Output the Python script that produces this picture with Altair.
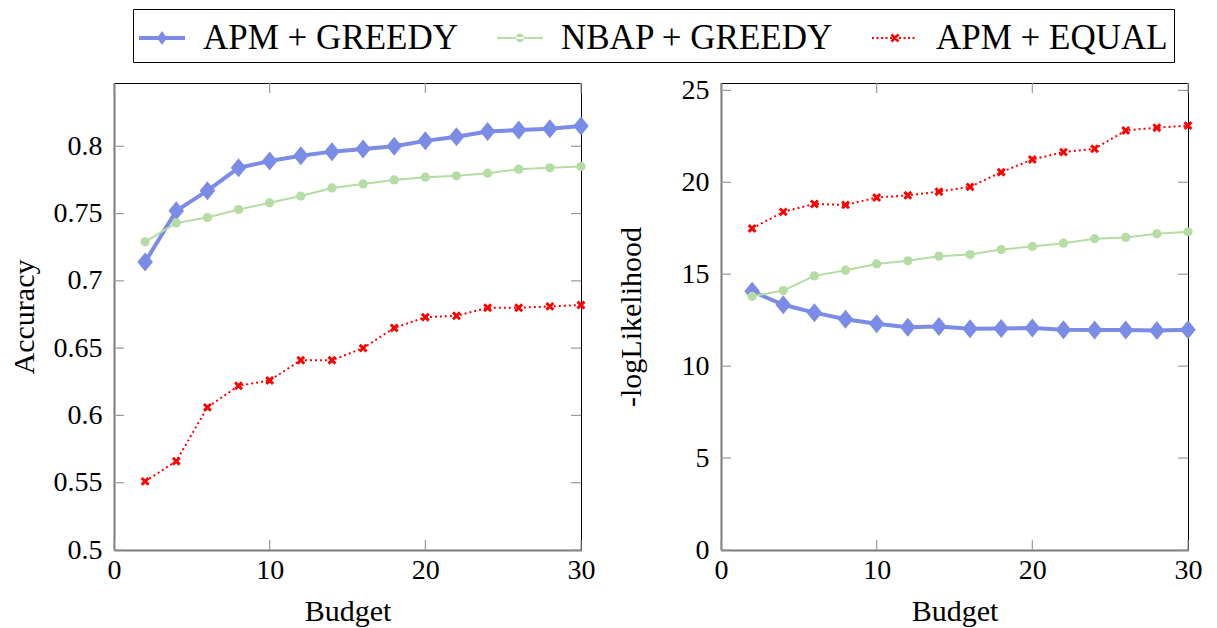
import math
import altair as alt
import pandas as pd

# ---------------- data ----------------
budget = [2, 4, 6, 8, 10, 12, 14, 16, 18, 20, 22, 24, 26, 28, 30]
series_names = ["APM + GREEDY", "NBAP + GREEDY", "APM + EQUAL"]

acc_apm_greedy = [0.714, 0.752, 0.767, 0.784, 0.789, 0.793, 0.796, 0.798, 0.800, 0.804, 0.807, 0.811, 0.812, 0.813, 0.815]
acc_nbap_greedy = [0.729, 0.743, 0.747, 0.753, 0.758, 0.763, 0.769, 0.772, 0.775, 0.777, 0.778, 0.780, 0.783, 0.784, 0.785]
acc_apm_equal = [0.551, 0.566, 0.606, 0.622, 0.626, 0.641, 0.641, 0.650, 0.665, 0.673, 0.674, 0.680, 0.680, 0.681, 0.682]

nll_apm_greedy = [14.07, 13.34, 12.91, 12.55, 12.31, 12.12, 12.16, 12.03, 12.05, 12.07, 11.98, 11.96, 11.96, 11.94, 11.98]
nll_nbap_greedy = [13.80, 14.11, 14.91, 15.22, 15.56, 15.73, 15.98, 16.07, 16.34, 16.51, 16.69, 16.93, 17.00, 17.20, 17.31]
nll_apm_equal = [17.49, 18.39, 18.82, 18.77, 19.17, 19.29, 19.49, 19.75, 20.55, 21.24, 21.64, 21.82, 22.82, 22.97, 23.08]

x_ticks = [0, 10, 20, 30]
acc_ticks = [0.5, 0.55, 0.6, 0.65, 0.7, 0.75, 0.8]
nll_ticks = [0, 5, 10, 15, 20, 25]

rows = []
for name, acc, nll in zip(series_names,
                          [acc_apm_greedy, acc_nbap_greedy, acc_apm_equal],
                          [nll_apm_greedy, nll_nbap_greedy, nll_apm_equal]):
    for b, a, n in zip(budget, acc, nll):
        rows.append({"budget": b, "series": name, "accuracy": a, "nll": n})
df = pd.DataFrame(rows)

# ---------------- styles ----------------
BLUE = "#7A8CE6"
GREEN = "#B4DCA3"
RED = "#FF0000"
colors = [BLUE, GREEN, RED]
FONT = "Liberation Serif"
W = 467
H = 467
TICK = "#9a9a9a"


def rect(x0, y0, x1, y1):
    return f"M{x0:.3f},{y0:.3f}L{x1:.3f},{y0:.3f}L{x1:.3f},{y1:.3f}L{x0:.3f},{y1:.3f}Z"


def xcross(cx, cy, half_len, half_w):
    out = ""
    s = 1 / math.sqrt(2)
    for d, n in [((s, s), (-s, s)), ((s, -s), (s, s))]:
        pts = []
        for a, b in [(1, 1), (1, -1), (-1, -1), (-1, 1)]:
            pts.append((cx + a * half_len * d[0] + b * half_w * n[0],
                        cy + a * half_len * d[1] + b * half_w * n[1]))
        out += "M" + "L".join(f"{px:.3f},{py:.3f}" for px, py in pts) + "Z"
    return out


# legend symbol paths (units: 1 = 23 px)
u = 1 / 23
leg_blue = rect(-1, -2 * u, 1, 2 * u) + f"M0,{-7*u:.3f}L{5*u:.3f},0L0,{7*u:.3f}L{-5*u:.3f},0Z"
r = 4.2 * u
leg_green = rect(-1, -1 * u, 1, 1 * u) + f"M{-r:.3f},0A{r:.3f},{r:.3f} 0 1,0 {r:.3f},0A{r:.3f},{r:.3f} 0 1,0 {-r:.3f},0Z"
leg_red = ""
pos = -22
while pos <= 22.5:
    leg_red += rect((pos - 1) * u, -1 * u, (pos + 1) * u, 1 * u)
    pos += 4.5
leg_red += xcross(0, 0, 5 * u, 1.3 * u)
legend_paths = [leg_blue, leg_green, leg_red]

diamond_path = "M0,-1L0.82,0L0,1L-0.82,0Z"
cross_path = xcross(0, 0, 1.25, 0.38)

styles = {
    "APM + GREEDY": dict(color=BLUE, width=4, dash=None, shape=diamond_path, size=361),
    "NBAP + GREEDY": dict(color=GREEN, width=2, dash=None, shape="circle", size=85),
    "APM + EQUAL": dict(color=RED, width=2, dash=[2, 3], shape=cross_path, size=60),
}


def panel(ycol, ydomain, yticks, yfmt, ytitle):
    xscale = alt.Scale(domain=[0, 30], nice=False, zero=False)
    yscale = alt.Scale(domain=ydomain, nice=False, zero=False)
    xaxis = alt.Axis(values=x_ticks, title="Budget", format="d", titleX=W / 2, titleY=61,
                     titleBaseline="middle", labelPadding=6, labelFlush=False)
    yaxis = alt.Axis(values=yticks, title=ytitle, format=yfmt, titleX=-90, titleY=H / 2,
                     titleAngle=270, titleBaseline="middle", titleAlign="center", labelPadding=12,
                     labelFlush=False)
    X = alt.X("budget:Q", scale=xscale, axis=xaxis)
    Y = alt.Y(f"{ycol}:Q", scale=yscale, axis=yaxis)

    layers = []
    # inward tick marks on all four sides
    xt = pd.DataFrame({"budget": x_ticks})
    yt = pd.DataFrame({ycol: yticks})
    layers.append(alt.Chart(xt).mark_rule(color=TICK, strokeWidth=1.2).encode(
        x=X, y=alt.value(H), y2=alt.value(H - 10)))
    layers.append(alt.Chart(xt).mark_rule(color=TICK, strokeWidth=1.2).encode(
        x=X, y=alt.value(0), y2=alt.value(10)))
    layers.append(alt.Chart(yt).mark_rule(color=TICK, strokeWidth=1.2).encode(
        y=Y, x=alt.value(0), x2=alt.value(10)))
    layers.append(alt.Chart(yt).mark_rule(color=TICK, strokeWidth=1.2).encode(
        y=Y, x=alt.value(W - 10), x2=alt.value(W)))

    for name in series_names:
        st = styles[name]
        base = alt.Chart(df).transform_filter(alt.datum.series == name)
        line_kw = dict(color=st["color"], strokeWidth=st["width"], strokeJoin="round")
        if st["dash"]:
            line_kw["strokeDash"] = st["dash"]
        layers.append(base.mark_line(**line_kw).encode(x=X, y=Y))
        layers.append(base.mark_point(shape=st["shape"], size=st["size"], filled=True,
                                      color=st["color"], opacity=1, strokeWidth=0).encode(x=X, y=Y))

    leg = alt.Legend(title=None, orient="none", legendX=19, legendY=-74, direction="horizontal")
    layers.append(alt.Chart(df).mark_point(filled=True, opacity=0).encode(
        x=X, y=Y,
        color=alt.Color("series:N", scale=alt.Scale(domain=series_names, range=colors), legend=leg),
        shape=alt.Shape("series:N", scale=alt.Scale(domain=series_names, range=legend_paths), legend=leg),
    ))
    return alt.layer(*layers).properties(width=W, height=H)


left = panel("accuracy", [0.5, 0.847], acc_ticks, ".2~f", "Accuracy")
right = panel("nll", [0, 25.4], nll_ticks, "d", "-logLikelihood")

chart = alt.hconcat(left, right, spacing=19).properties(
    padding={"left": 0, "top": 0, "right": 5, "bottom": 5}
).configure_view(
    stroke="black", strokeWidth=1
).configure_axis(
    labelFont=FONT, labelFontSize=28, labelColor="black",
    titleFont=FONT, titleFontSize=30, titleFontWeight="normal", titleColor="black",
    ticks=False, grid=False, domainColor="#7a7a7a", domainWidth=2,
).configure_legend(
    strokeColor="black", padding=6, symbolSize=2116, symbolStrokeWidth=0,
    symbolOpacity=1, labelFont=FONT, labelFontSize=35, labelColor="black",
    labelOffset=18, columnPadding=38, labelLimit=600,
)

chart.save("out.html", embed_options={"renderer": "svg", "actions": False})
